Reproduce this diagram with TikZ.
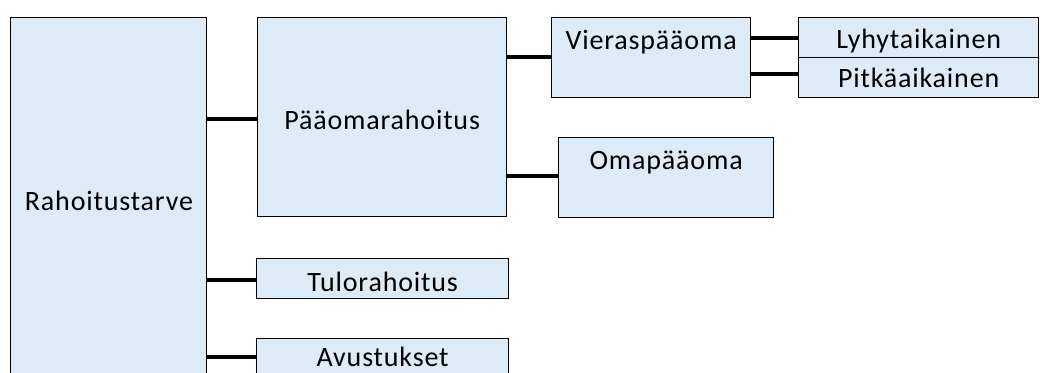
\documentclass[tikz,border=0pt]{standalone}
\usepackage{fontspec}
\setmainfont{Carlito}[LetterSpace=3]
\definecolor{boxfill}{HTML}{DDEBF7}
\tikzset{
  x=1pt, y=-1pt,
  box/.style={draw=black, line width=1.3pt, fill=boxfill, rectangle,
    anchor=north west, inner sep=0pt},
  txt/.style={font=\fontsize{28}{32}\selectfont, inner sep=0pt},
  mid/.style={label={[txt, anchor=center, yshift=-3pt]center:#1}},
  top/.style={label={[txt, anchor=center, yshift=-25pt]north:#1}},
  conn/.style={draw=black, line width=3.6pt}
}
\begin{document}
\begin{tikzpicture}
\useasboundingbox (0,0) rectangle (1046,372);
\clip (0,0) rectangle (1046,372);

% main column
\node[box, minimum width=196pt, minimum height=370pt] (rt) at (10,17) {};
\node[txt] (rtt) at (109,201) {Rahoitustarve};

% second level
\node[box, minimum width=249pt, minimum height=199pt, mid=Pääomarahoitus] (pr) at (257,17) {};
\node[box, minimum width=252pt, minimum height=40pt, mid=Tulorahoitus] (tr) at (256,258) {};
\node[box, minimum width=252pt, minimum height=44pt,
  label={[txt, anchor=center, yshift=-19pt]north:Avustukset}] (av) at (256,338) {};

% third level
\node[box, minimum width=199pt, minimum height=80pt, top=Vieraspääoma] (vp) at (551,17) {};
\node[box, minimum width=215pt, minimum height=80pt, top=Omapääoma] (op) at (558,137) {};

% fourth level
\node[box, minimum width=240pt, minimum height=40pt, mid=Lyhytaikainen] (ly) at (798,17) {};
\node[box, minimum width=240pt, minimum height=40pt,
  label={[txt, anchor=center]center:Pitkäaikainen}] (pi) at (798,57) {};

% connectors
\draw[conn] (rt.north east |- 0,119) -- (pr.west |- 0,119);
\draw[conn] (rt.north east |- 0,280) -- (tr.west |- 0,280);
\draw[conn] (rt.north east |- 0,357) -- (av.west |- 0,357);
\draw[conn] (pr.north east |- 0,57) -- (vp.west |- 0,57);
\draw[conn] (pr.north east |- 0,176) -- (op.west |- 0,176);
\draw[conn] (vp.north east |- 0,38) -- (ly.west |- 0,38);
\draw[conn] (vp.north east |- 0,74) -- (pi.west |- 0,74);
\end{tikzpicture}
\end{document}
